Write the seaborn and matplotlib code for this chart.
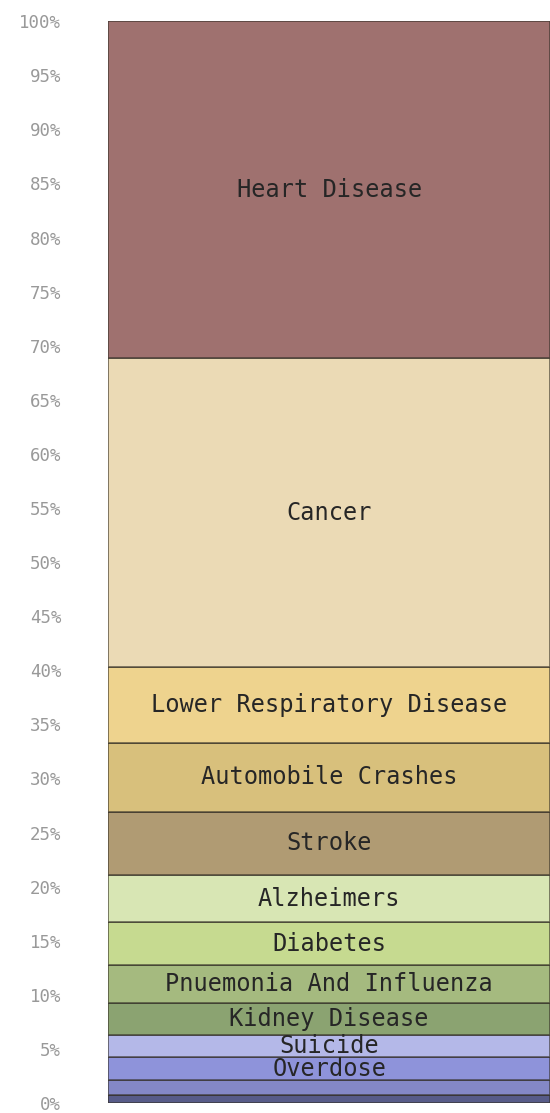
import pandas as pd
import matplotlib.pyplot as plt
import seaborn as sns

# -----------------------------
# Data (share of deaths, %)
# -----------------------------
causes = [
    "Heart Disease", "Cancer", "Lower Respiratory Disease", "Automobile Crashes",
    "Stroke", "Alzheimers", "Diabetes", "Pnuemonia And Influenza",
    "Kidney Disease", "Suicide", "Overdose", "Homicide", "Terrorism",
]
shares = [31.15, 28.55, 7.0, 6.4, 5.8, 4.4, 3.95, 3.5, 2.95, 2.05, 2.15, 1.35, 0.75]
colors = [
    "#9f716f", "#ebdab5", "#eed38e", "#d8c07c", "#b09b73", "#d8e6b4", "#c6da90",
    "#a5ba7f", "#8ba371", "#b4b8e8", "#8e93da", "#8488c6", "#575b88",
]
tick_values = list(range(0, 101, 5))
tick_labels = [f"{v}%" for v in tick_values]

df = pd.DataFrame({"cause": causes, "share": shares, "x": 0})

# -----------------------------
# Plot
# -----------------------------
sns.set_style("white")
plt.rcParams["font.family"] = ["DejaVu Sans Mono"]

fig = plt.figure(figsize=(5.5, 11.13), dpi=100)
ax = fig.add_axes([0.197, 0.009, 0.803, 0.972])

sns.histplot(
    data=df, x="x", weights="share", hue="cause", hue_order=causes,
    palette=dict(zip(causes, colors)), multiple="stack", discrete=True,
    shrink=1, alpha=1, edgecolor=(0.2, 0.18, 0.15, 0.75), linewidth=1.1,
    legend=False, ax=ax,
)

# labels in the middle of each segment (stack is drawn top to bottom)
top = 100.0
for cause, share in zip(causes, shares):
    mid = top - share / 2
    if share >= 2.0:
        ax.text(0, mid, cause, ha="center", va="center", fontsize=17, color="#262626")
    top -= share

ax.set_xlim(-0.5, 0.5)
ax.set_ylim(0, 100)
ax.set_yticks(tick_values)
ax.set_yticklabels(tick_labels)
ax.tick_params(axis="y", length=0, pad=34, labelsize=12.5, labelcolor="#999999")
ax.set_xticks([])
ax.set_xlabel("")
ax.set_ylabel("")
for spine in ax.spines.values():
    spine.set_visible(False)

plt.savefig("out.png", dpi=100)
plt.close()
